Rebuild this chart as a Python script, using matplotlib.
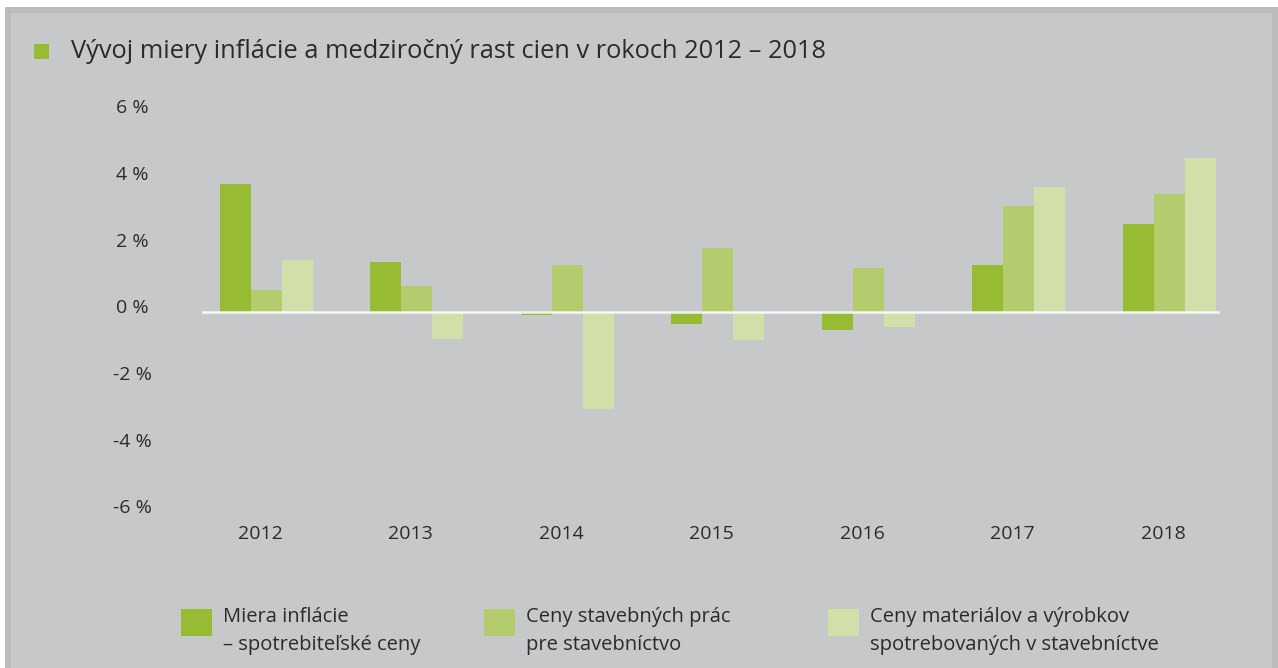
import matplotlib
matplotlib.use("Agg")
import matplotlib.pyplot as plt
from matplotlib.patches import Rectangle, Patch
from matplotlib.legend_handler import HandlerPatch
from matplotlib.transforms import ScaledTranslation

# ---- data ----
years = ["2012", "2013", "2014", "2015", "2016", "2017", "2018"]
inflacia = [3.85, 1.51, -0.08, -0.35, -0.53, 1.42, 2.65]
stavebne_prace = [0.67, 0.79, 1.42, 1.93, 1.33, 3.19, 3.55]
materialy = [1.57, -0.80, -2.90, -0.83, -0.44, 3.76, 4.63]
series_labels = ["Miera inflácie\n– spotrebiteľské ceny",
                 "Ceny stavebných prác\npre stavebníctvo",
                 "Ceny materiálov a výrobkov\nspotrebovaných v stavebníctve"]
yticks = [-6, -4, -2, 0, 2, 4, 6]
ytick_labels = ["-6 %", "-4 %", "-2 %", "0 %", "2 %", "4 %", "6 %"]
title = "Vývoj miery inflácie a medziročný rast cien v rokoch 2012 – 2018"

# ---- style ----
C_DARK = "#97bb33"
C_MID = "#b4cc6e"
C_LIGHT = "#d1e0a9"
C_BG = "#c7c8ca"
C_BORDER = "#bbbcbe"
C_TEXT = "#2b2b2b"
FONT = ["Open Sans", "DejaVu Sans"]
plt.rcParams["font.family"] = FONT

W, H = 1278, 668
fig = plt.figure(figsize=(W / 100, H / 100), dpi=100, facecolor="white")

def fx(x):
    return x / W

def fy(y):
    return 1 - y / H

# frame / background
fig.patches.append(Rectangle((fx(5), 0), fx(W) - fx(5), fy(7), transform=fig.transFigure,
                             facecolor=C_BORDER, edgecolor="none", zorder=-10))
fig.patches.append(Rectangle((fx(11), 0), fx(1272) - fx(11), fy(13), transform=fig.transFigure,
                             facecolor=C_BG, edgecolor="none", zorder=-9))

# title marker + title
fig.patches.append(Rectangle((fx(34), fy(59)), fx(15), 15 / H, transform=fig.transFigure,
                             facecolor=C_DARK, edgecolor="none"))
fig.text(fx(71), fy(51), title, fontsize=18.3, color=C_TEXT, ha="left", va="center")

# axes
y_top, y_bot = 6.6, -6.3
px_per_unit = 33.33
zero_px = 312.3
top_px = zero_px - y_top * px_per_unit
bot_px = zero_px - y_bot * px_per_unit
left_px, right_px = 202, 1220
ax = fig.add_axes([fx(left_px), fy(bot_px), fx(right_px - left_px), (bot_px - top_px) / H])
ax.set_facecolor("none")

centers_px0, step_px = 266.3, 150.5
x = list(range(len(years)))
bw = 31 / step_px
ax.bar([i - bw for i in x], inflacia, width=bw, color=C_DARK, zorder=2, label=series_labels[0])
ax.bar(x, stavebne_prace, width=bw, color=C_MID, zorder=2, label=series_labels[1])
ax.bar([i + bw for i in x], materialy, width=bw, color=C_LIGHT, zorder=2, label=series_labels[2])
ax.axhline(0, color="white", lw=1.8, alpha=0.85, zorder=3)

ax.set_xlim((left_px - centers_px0) / step_px, (right_px - centers_px0) / step_px)
ax.set_ylim(y_bot, y_top)
ax.set_xticks(x)
ax.set_xticklabels(years, fontsize=14, color=C_TEXT)
ax.set_yticks(yticks)
ax.set_yticklabels(ytick_labels, fontsize=14, color=C_TEXT, ha="center")
ax.tick_params(axis="both", length=0)
ax.tick_params(axis="x", pad=2)
ax.tick_params(axis="y", pad=(left_px - 132.5) * 0.72)
for s in ax.spines.values():
    s.set_visible(False)
yoff = ScaledTranslation(0, 6 / 100, fig.dpi_scale_trans)
for lab in ax.get_yticklabels():
    lab.set_transform(lab.get_transform() + yoff)
xoff = ScaledTranslation(-6 / 100, 0, fig.dpi_scale_trans)
for lab in ax.get_xticklabels():
    lab.set_transform(lab.get_transform() + xoff)

# legend: three entries, placed individually
SHIFT_PT = 5.3
PATCH_H_PT = 27 * 72 / 100

def raised_rect(legend, orig_handle, xdescent, ydescent, width, height, fontsize):
    return Rectangle((-xdescent, -ydescent + SHIFT_PT), width, PATCH_H_PT)

colors = [C_DARK, C_MID, C_LIGHT]
leg_x = [181, 484, 828]
fs_leg = 14.5
fpx = fs_leg * 100 / 72
for c, lx, lab in zip(colors, leg_x, series_labels):
    h = Patch(facecolor=c, edgecolor="none", label=lab)
    leg = fig.legend(handles=[h], loc="upper left", bbox_to_anchor=(fx(lx), fy(607)),
                     frameon=False, fontsize=fs_leg, borderpad=0, borderaxespad=0,
                     handlelength=31 / fpx, handleheight=27 / fpx, handletextpad=0.55,
                     labelcolor=C_TEXT,
                     handler_map={h: HandlerPatch(patch_func=raised_rect)})
    for t in leg.get_texts():
        t.set_linespacing(1.52)

fig.savefig("out.png", dpi=100, facecolor=fig.get_facecolor())
